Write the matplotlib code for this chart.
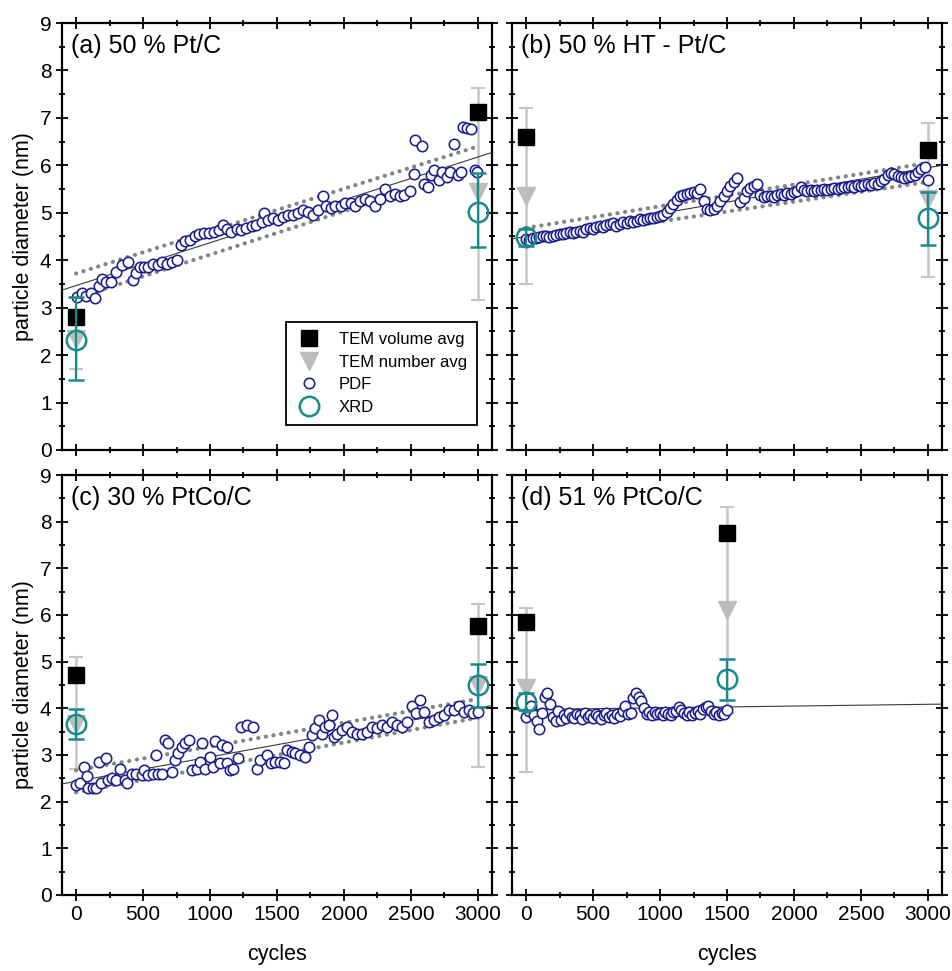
import matplotlib
matplotlib.use("Agg")
import matplotlib.pyplot as plt
from matplotlib.lines import Line2D
from matplotlib.ticker import MultipleLocator

plt.rcParams['font.family'] = ['Liberation Sans', 'DejaVu Sans']

# ---------------------------------------------------------------
# data (cycles, particle diameter in nm)
# ---------------------------------------------------------------

# (a) 50 % Pt/C
pdf_a_cycles = [10, 45, 75, 110, 140, 170, 195, 225, 260, 300, 340, 385, 425, 450, 480, 505,
                540, 575, 610, 645, 680, 720, 750, 780, 815, 850, 885, 920, 955, 990, 1030,
                1065, 1100, 1125, 1160, 1200, 1235, 1270, 1310, 1345, 1385, 1405, 1430, 1470,
                1505, 1545, 1580, 1620, 1655, 1695, 1730, 1770, 1805, 1840, 1865, 1900, 1935,
                1975, 2010, 2050, 2085, 2120, 2160, 2195, 2235, 2270, 2305, 2340, 2380, 2415,
                2450, 2490, 2525, 2530, 2580, 2600, 2625, 2650, 2675, 2710, 2735, 2770, 2790,
                2820, 2850, 2875, 2890, 2915, 2950, 2975, 2995]
pdf_a_diam = [3.22, 3.30, 3.25, 3.30, 3.20, 3.45, 3.60, 3.55, 3.55, 3.75, 3.90, 3.97, 3.58, 3.72,
              3.85, 3.85, 3.85, 3.93, 3.90, 3.97, 3.93, 3.97, 4.00, 4.32, 4.40, 4.42, 4.52, 4.55,
              4.58, 4.58, 4.60, 4.63, 4.75, 4.65, 4.60, 4.65, 4.63, 4.67, 4.72, 4.75, 4.80, 5.00,
              4.85, 4.88, 4.85, 4.92, 4.95, 4.95, 5.00, 5.05, 5.02, 4.95, 5.05, 5.35, 5.15, 5.10,
              5.15, 5.15, 5.20, 5.20, 5.15, 5.25, 5.30, 5.25, 5.15, 5.30, 5.50, 5.35, 5.40, 5.35,
              5.38, 5.45, 5.82, 6.54, 6.40, 5.60, 5.55, 5.80, 5.90, 5.70, 5.85, 5.75, 5.85, 6.45,
              5.80, 5.85, 6.80, 6.78, 6.76, 5.90, 5.85]
tem_a_cycles = [0, 3000]
tem_vol_a = [2.81, 7.12]
tem_num_a = [2.33, 5.44]
tem_lo_a = [1.70, 3.16]
tem_hi_a = [2.90, 7.63]
xrd_a = [2.32, 5.02]
xrd_lo_a = [1.48, 4.28]
xrd_hi_a = [3.23, 5.84]
fit_a = [3.37, 6.27]
band_up_a = [3.72, 6.40]
band_lo_a = [3.20, 5.95]

# (b) 50 % HT - Pt/C, one PDF point every 25 cycles
pdf_b_cycles = list(range(0, 3001, 25))
pdf_b_diam = [4.45, 4.43, 4.46, 4.47, 4.48, 4.50, 4.51, 4.49, 4.52, 4.54, 4.55, 4.56, 4.58, 4.60,
              4.57, 4.60, 4.62, 4.60, 4.66, 4.68, 4.65, 4.70, 4.72, 4.70, 4.74, 4.76, 4.78, 4.73,
              4.76, 4.80, 4.78, 4.82, 4.80, 4.83, 4.86, 4.84, 4.87, 4.88, 4.90, 4.92, 4.93, 4.96,
              5.02, 5.10, 5.18, 5.27, 5.35, 5.38, 5.40, 5.41, 5.43, 5.42, 5.50, 5.25, 5.08, 5.05,
              5.08, 5.15, 5.24, 5.35, 5.46, 5.56, 5.65, 5.73, 5.22, 5.32, 5.45, 5.52, 5.57, 5.60,
              5.37, 5.33, 5.35, 5.36, 5.33, 5.37, 5.40, 5.38, 5.42, 5.40, 5.44, 5.46, 5.55, 5.47,
              5.45, 5.47, 5.46, 5.48, 5.47, 5.50, 5.49, 5.51, 5.52, 5.50, 5.53, 5.55, 5.54, 5.56,
              5.55, 5.58, 5.57, 5.59, 5.60, 5.58, 5.62, 5.60, 5.66, 5.72, 5.80, 5.84, 5.82, 5.78,
              5.75, 5.73, 5.76, 5.78, 5.80, 5.86, 5.92, 5.97, 5.70]
tem_b_cycles = [0, 3000]
tem_vol_b = [6.60, 6.33]
tem_num_b = [5.35, 5.30]
tem_lo_b = [3.50, 3.65]
tem_hi_b = [7.20, 6.90]
xrd_b = [4.48, 4.88]
xrd_lo_b = [4.30, 4.33]
xrd_hi_b = [4.65, 5.43]
fit_b = [4.45, 6.00]
band_up_b = [4.68, 6.05]
band_lo_b = [4.40, 5.65]

# (c) 30 % PtCo/C
pdf_c_cycles = [0, 27, 57, 82, 90, 127, 152, 170, 190, 227, 235, 265, 302, 327, 364, 384, 414,
                451, 489, 506, 539, 576, 600, 613, 638, 663, 688, 713, 738, 763, 788, 813, 845,
                863, 900, 925, 940, 963, 1000, 1025, 1037, 1075, 1087, 1125, 1130, 1150, 1175,
                1212, 1229, 1274, 1324, 1349, 1374, 1424, 1454, 1486, 1521, 1554, 1574, 1611,
                1636, 1673, 1711, 1736, 1761, 1786, 1810, 1835, 1860, 1885, 1910, 1923, 1948,
                1985, 2022, 2060, 2097, 2135, 2172, 2210, 2247, 2284, 2322, 2359, 2397, 2434,
                2471, 2509, 2534, 2571, 2596, 2634, 2671, 2708, 2746, 2783, 2821, 2858, 2896,
                2933, 2963, 3000]
pdf_c_diam = [2.36, 2.39, 2.75, 2.54, 2.29, 2.29, 2.29, 2.86, 2.40, 2.93, 2.46, 2.50, 2.46, 2.71,
              2.46, 2.39, 2.60, 2.60, 2.57, 2.68, 2.57, 2.60, 3.00, 2.60, 2.60, 3.32, 3.25, 2.64,
              2.89, 3.04, 3.18, 3.25, 3.32, 2.68, 2.71, 2.86, 3.25, 2.71, 2.96, 2.75, 3.29, 2.82,
              3.21, 3.18, 2.82, 2.68, 2.71, 2.93, 3.61, 3.64, 3.61, 2.71, 2.89, 3.00, 2.82, 2.86,
              2.86, 2.82, 3.11, 3.07, 3.04, 3.00, 2.96, 3.18, 3.43, 3.57, 3.75, 3.46, 3.61, 3.64,
              3.86, 3.39, 3.46, 3.54, 3.61, 3.50, 3.46, 3.46, 3.50, 3.61, 3.57, 3.64, 3.61, 3.71,
              3.64, 3.61, 3.71, 4.04, 3.89, 4.18, 3.93, 3.71, 3.75, 3.82, 3.86, 3.96, 3.96, 4.04,
              3.93, 3.96, 3.89, 3.93]
tem_c_cycles = [0, 3000]
tem_vol_c = [4.71, 5.76]
tem_num_c = [3.66, 4.49]
tem_lo_c = [2.70, 2.75]
tem_hi_c = [5.10, 6.24]
xrd_c = [3.66, 4.49]
xrd_lo_c = [3.34, 4.03]
xrd_hi_c = [3.98, 4.95]
fit_c = [2.38, 4.06]
band_up_c = [2.67, 4.20]
band_lo_c = [2.20, 3.80]

# (d) 51 % PtCo/C, one PDF point every 20 cycles up to 1500
pdf_d_cycles = list(range(0, 1501, 20))
pdf_d_diam = [3.82, 3.95, 4.05, 3.85, 3.72, 3.55, 3.90, 4.25, 4.32, 4.10, 3.82, 3.72, 3.95, 3.75,
              3.85, 3.80, 3.90, 3.82, 3.80, 3.88, 3.85, 3.78, 3.90, 3.82, 3.86, 3.80, 3.88, 3.84,
              3.78, 3.86, 3.90, 3.82, 3.85, 3.80, 3.88, 3.84, 3.95, 4.05, 3.88, 3.90, 4.22, 4.32,
              4.25, 4.15, 4.00, 3.88, 3.92, 3.85, 3.92, 3.88, 3.90, 3.86, 3.92, 3.88, 3.85, 3.92,
              3.95, 4.02, 3.96, 3.90, 3.86, 3.92, 3.85, 3.90, 3.94, 3.88, 3.98, 4.02, 4.05, 3.95,
              3.88, 3.92, 3.85, 3.90, 3.88, 3.96]
tem_d_cycles = [0, 1500]
tem_vol_d = [5.86, 7.76]
tem_num_d = [4.43, 6.10]
tem_lo_d = [2.63, 3.90]
tem_hi_d = [6.16, 8.31]
xrd_d = [4.14, 4.62]
xrd_lo_d = [3.96, 4.18]
xrd_hi_d = [4.32, 5.06]
fit_d = [3.97, 4.09]

fit_cycles = [-105, 3105]
band_cycles = [0, 3000]

labels = ['(a) 50 % Pt/C', '(b) 50 % HT - Pt/C', '(c) 30 % PtCo/C', '(d) 51 % PtCo/C']

NAVY = '#1c1c8c'
TEAL = '#1a8a8a'
GRAY_TRI = '#bdbdbd'
GRAY_ERR = '#c6c6c6'
DOT_GRAY = '#858585'


def draw_panel(ax, pdf_x, pdf_y, tem_x, tem_vol, tem_num, tem_lo, tem_hi,
               xrd, xrd_lo, xrd_hi, fit, band_up=None, band_lo=None):
    # TEM number average with its spread
    ax.errorbar(tem_x, tem_num,
                yerr=[[n - l for n, l in zip(tem_num, tem_lo)], [h - n for n, h in zip(tem_num, tem_hi)]],
                fmt='v', color=GRAY_TRI, ms=13, ecolor=GRAY_ERR, elinewidth=1.8,
                capsize=5, capthick=1.5, zorder=2)
    ax.plot(tem_x, tem_vol, 's', color='black', ms=12, zorder=3)

    # fits
    ax.plot(fit_cycles, fit, '-', color='#3a3a3a', lw=0.8, zorder=4)
    if band_up is not None:
        for band in (band_up, band_lo):
            ax.plot(band_cycles, band, color=DOT_GRAY, lw=3.0, linestyle=(0, (0.05, 1.8)),
                    dash_capstyle='round', zorder=4)

    ax.plot(pdf_x, pdf_y, 'o', ms=7.5, mfc='white', mec=NAVY, mew=1.15, zorder=5)

    ax.errorbar(tem_x, xrd,
                yerr=[[v - l for v, l in zip(xrd, xrd_lo)], [h - v for v, h in zip(xrd, xrd_hi)]],
                fmt='o', ms=14, mfc='none', mec=TEAL, mew=1.8, ecolor=TEAL,
                elinewidth=1.6, capsize=6, capthick=1.6, zorder=6)

    ax.set_xlim(-105, 3105)
    ax.set_ylim(0, 9)
    ax.xaxis.set_major_locator(MultipleLocator(500))
    ax.xaxis.set_minor_locator(MultipleLocator(250))
    ax.yaxis.set_major_locator(MultipleLocator(1))
    ax.yaxis.set_minor_locator(MultipleLocator(0.5))
    ax.tick_params(which='both', direction='inout', top=True, right=True, width=1.3,
                   labelsize=15)
    ax.tick_params(which='major', length=8)
    ax.tick_params(which='minor', length=5)
    for s in ax.spines.values():
        s.set_linewidth(1.6)


fig = plt.figure(figsize=(9.52, 9.71), dpi=100)
ax_a = fig.add_axes([0.0651, 0.5366, 0.4517, 0.4397])
ax_b = fig.add_axes([0.5378, 0.5366, 0.4517, 0.4397])
ax_c = fig.add_axes([0.0651, 0.0783, 0.4517, 0.4325])
ax_d = fig.add_axes([0.5378, 0.0783, 0.4517, 0.4325])

draw_panel(ax_a, pdf_a_cycles, pdf_a_diam, tem_a_cycles, tem_vol_a, tem_num_a, tem_lo_a, tem_hi_a,
           xrd_a, xrd_lo_a, xrd_hi_a, fit_a, band_up_a, band_lo_a)
draw_panel(ax_b, pdf_b_cycles, pdf_b_diam, tem_b_cycles, tem_vol_b, tem_num_b, tem_lo_b, tem_hi_b,
           xrd_b, xrd_lo_b, xrd_hi_b, fit_b, band_up_b, band_lo_b)
draw_panel(ax_c, pdf_c_cycles, pdf_c_diam, tem_c_cycles, tem_vol_c, tem_num_c, tem_lo_c, tem_hi_c,
           xrd_c, xrd_lo_c, xrd_hi_c, fit_c, band_up_c, band_lo_c)
draw_panel(ax_d, pdf_d_cycles, pdf_d_diam, tem_d_cycles, tem_vol_d, tem_num_d, tem_lo_d, tem_hi_d,
           xrd_d, xrd_lo_d, xrd_hi_d, fit_d)

for ax, lab in zip([ax_a, ax_b, ax_c, ax_d], labels):
    ax.text(0.022, 0.975, lab, transform=ax.transAxes, ha='left', va='top', fontsize=18)

ax_a.tick_params(labelbottom=False)
ax_b.tick_params(labelbottom=False, labelleft=False)
ax_d.tick_params(labelleft=False)
for ax in (ax_a, ax_c):
    ax.set_ylabel('particle diameter (nm)', fontsize=15.5, labelpad=4)
for ax in (ax_c, ax_d):
    ax.set_xlabel('cycles', fontsize=15.5, labelpad=14)

handles = [
    Line2D([], [], ls='none', marker='s', color='black', ms=12),
    Line2D([], [], ls='none', marker='v', color=GRAY_TRI, ms=13),
    Line2D([], [], ls='none', marker='o', ms=7.5, mfc='white', mec=NAVY, mew=1.15),
    Line2D([], [], ls='none', marker='o', ms=14, mfc='none', mec=TEAL, mew=1.8),
]
leg = ax_a.legend(handles, ['TEM volume avg', 'TEM number avg', 'PDF', 'XRD'],
                  loc='lower right', bbox_to_anchor=(0.985, 0.04), fontsize=12,
                  frameon=True, fancybox=False, edgecolor='black', framealpha=1,
                  borderpad=0.6, labelspacing=0.45, handletextpad=1.0, handlelength=1.6)
leg.get_frame().set_linewidth(1.3)

fig.savefig('out.png', dpi=100)
